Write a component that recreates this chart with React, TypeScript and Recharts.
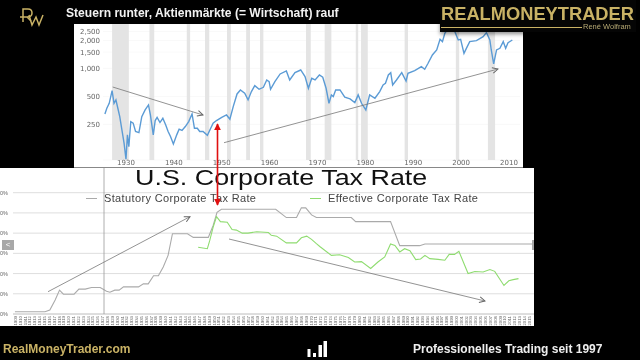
import React from "react";
import { LineChart, Line, XAxis, YAxis, CartesianGrid, ReferenceArea, Legend } from "recharts";

const stockYears = [1925.6,1926,1926.5,1927.1,1927.5,1927.9,1928.3,1928.7,1929.2,1929.6,1930,1930.3,1930.6,1931,1931.5,1932,1932.7,1933.3,1934,1934.7,1935.1,1935.7,1936.1,1936.5,1937.1,1937.7,1938.3,1938.8,1939.3,1939.9,1940.6,1941.1,1941.7,1942.4,1943.1,1943.8,1944.3,1944.9,1945.4,1946.1,1947,1947.7,1948.2,1948.9,1950,1951,1951.7,1952.4,1953.2,1953.9,1954.8,1955.5,1956.2,1956.9,1957.8,1958.7,1959.4,1959.9,1960.2,1961.1,1962.2,1963.5,1964.2,1965.3,1966.5,1967.4,1968.1,1968.8,1969.5,1970.4,1971.1,1971.8,1972.4,1972.9,1973.3,1973.8,1974.7,1975.7,1976.8,1977.8,1978.5,1979.2,1980.1,1980.9,1982,1983,1983.7,1984.2,1984.8,1985.3,1985.7,1986.5,1987.6,1988.5,1988.9,1990.3,1991.7,1992.4,1993.1,1994,1994.9,1995.6,1996.1,1996.6,1997.3,1998.7,1999.4,1999.9,2000.6,2001.1,2001.8,2003.2,2004.6,2005.3,2006,2006.3,2006.8,2007.4,2008.1,2008.8,2009.3,2009.8,2010.7];
const stockValues = [324,373,422,578,422,459,373,303,210,157,105.5,193,144,268,258,210,204,303,358,405,316,193,275,298,262,291,247,210,185,154,193,222,215,237,268,324,227,227,210,210,191,227,258,275,298,316,284,389,532,587,541,459,564,654,597,627,752,722,597,722,873,940,752,902,963,817,612,784,752,851,804,612,422,519,498,587,587,490,470,429,519,422,358,519,478,564,665,693,851,902,665,752,902,734,887,948,1046,980,1137,1397,1581,2058,1945,2388,2703,2488,2025,2058,1456,1647,1945,1994,2199,2428,2025,1581,1118,1581,1647,1945,1647,1896,2025];

const recessionStarts = [1927.1,1934.9,1942.7,1946.5,1951.1,1955.1,1958,1967.6,1971.5,1978,1979.1,1988.2,1998.9,2005.6];
const recessionEnds = [1930.6,1935.9,1943.4,1947.4,1951.9,1955.9,1958.7,1968.6,1972.9,1978.5,1980.5,1988.9,1999.6,2007.1];

const stockTicksX = [1930,1940,1950,1960,1970,1980,1990,2000,2010];
const stockTicksY = [250,500,1000,1500,2000,2500];

const statYears = [1908.9,1915.1,1916.1,1917.2,1918.1,1918.9,1921.1,1922.1,1923.4,1924.7,1926.5,1927.8,1928.5,1929.5,1930.4,1931.3,1934.4,1935.4,1936.4,1937.5,1938.5,1939.5,1940.5,1941.4,1944.5,1945.7,1948.8,1949.8,1950.6,1951.5,1962.7,1964.9,1967,1968,1968.9,1970.1,1971.1,1971.8,1978.3,1979.2,1986.4,1988.3,1992.4,1993.5,2015.8];
const statValues = [1.1,1.1,2,6.9,11.8,9.8,9.8,12.3,12.3,13.1,13.1,11.3,10.8,11.8,11.8,13.4,13.4,14.9,14.9,18.9,18.9,23.3,29,39.7,39.7,37.9,37.9,43.8,50.3,51.8,51.8,47.7,47.7,52.5,52.5,49,47.7,47.7,47.7,45.7,45.7,33.8,33.8,34.6,34.6];
const effYears = [1946.7,1948.6,1949.1,1949.8,1950.5,1951.3,1952.7,1953.7,1954.6,1955.8,1957,1958.8,1961.2,1961.8,1962.9,1964.9,1967,1968,1969.1,1970.1,1971.1,1971.8,1974.2,1975.9,1977.7,1979,1980.4,1982.3,1983.8,1985.2,1986.4,1987.3,1988.3,1989.3,1990.4,1991.6,1992.6,1993.5,1994.5,1996.2,1997.6,1998.5,1999.6,2000.5,2002.4,2003.8,2005.5,2006.9,2007.9,2009.8,2010.8,2011.7,2012.8];
const effValues = [33,32.3,36.4,43,48.2,45.7,45.4,41.8,41.5,40,40,40.7,40.3,38.9,38.5,35.2,35.2,37.7,38.5,36.9,34.8,33.4,29,29.3,27.9,25.7,25.9,22.5,25.7,28.2,34.6,33.9,30.7,32.3,31.3,26.9,27.2,29,27.4,27,26.6,29.5,29.5,31,20,21,20.8,22,21.1,14.1,16.4,17,17.5];

const taxTicksY = [0,10,20,30,40,50,60];
const firstTaxYear = 1909;
const lastTaxYear = 2015;

const stockData = stockYears.map((year, i) => ({ year, value: stockValues[i] }));
const statData = statYears.map((year, i) => ({ year, value: statValues[i] }));
const effData = effYears.map((year, i) => ({ year, value: effValues[i] }));
const taxTicksX = Array.from({ length: lastTaxYear - firstTaxYear + 1 }, (_, i) => firstTaxYear + i);

const SANS = '"Liberation Sans", Arial, sans-serif';
const GOLD = "#c9b265";

function YearTick(props: any) {
  const { x, y, payload } = props;
  return (
    <text x={x} y={y + 2} transform={`rotate(-90 ${x} ${y + 2})`} textAnchor="end" dominantBaseline="central" fontSize={4.3} fill="#666" fontFamily={SANS}>
      {payload.value}
    </text>
  );
}

function TaxLegend() {
  const item = (left: number, color: string, label: string) => (
    <div key={label} style={{ position: "absolute", left, top: 24, whiteSpace: "nowrap", height: 13, lineHeight: "13px", fontSize: 11, letterSpacing: 0.36, color: "#444", fontFamily: SANS }}>
      <span style={{ position: "absolute", left: 0, top: 6, width: 11, height: 1, background: color }} />
      <span style={{ position: "absolute", left: 18, top: 0 }}>{label}</span>
    </div>
  );
  return (
    <div style={{ position: "relative", width: 534, height: 40 }}>
      {item(86, "#aaaaaa", "Statutory Corporate Tax Rate")}
      {item(310, "#8fdc70", "Effective Corporate Tax Rate")}
    </div>
  );
}

export default function App() {
  return (
    <div style={{ position: "fixed", left: 0, top: 0, width: 640, height: 360, background: "#000", overflow: "hidden", filter: "blur(0.35px)" }}>
      <div style={{ position: "absolute", left: 74, top: 24, width: 449, height: 143, background: "#fff" }}>
        <LineChart width={449} height={143} data={stockData} margin={{ top: 0, right: 3, bottom: 0, left: 0 }}>
          <CartesianGrid horizontal vertical={false} stroke="#f5f5f5" strokeWidth={0.6} />
          {recessionStarts.map((start, i) => (
            <ReferenceArea key={start} x1={start} x2={recessionEnds[i]} fill="#e4e4e4" fillOpacity={1} stroke="none" ifOverflow="hidden" />
          ))}
          <XAxis dataKey="year" type="number" domain={[1925.2, 2012.3]} allowDataOverflow ticks={stockTicksX} height={7} interval={0} tickLine={false} axisLine={false} tickSize={0} tickMargin={0} tick={{ fontSize: 7, fill: "#666", fontFamily: "DejaVu Sans" }} />
          <YAxis dataKey="value" type="number" scale="log" domain={[103.5, 3010]} allowDataOverflow ticks={stockTicksY} width={29} interval={0} tickLine={false} axisLine={false} tickSize={0} tickMargin={3} tickFormatter={(v: number) => v.toLocaleString("en-US")} tick={{ fontSize: 7, fill: "#666", fontFamily: "DejaVu Sans" }} />
          <Line dataKey="value" type="linear" stroke="#5b9bd5" strokeWidth={1.4} dot={false} isAnimationActive={false} />
        </LineChart>
      </div>
      <div style={{ position: "absolute", left: 74, top: 166.5, width: 449, height: 1, background: "#888" }} />

      <div style={{ position: "absolute", left: 0, top: 168, width: 534, height: 158, background: "#fff" }}>
        <LineChart width={534} height={158} margin={{ top: 24.7, right: 0, bottom: 0, left: 0 }}>
          <CartesianGrid horizontal vertical={false} stroke="#dedede" strokeWidth={1} />
          <XAxis dataKey="year" type="number" domain={[1908.5, 2016]} allowDataOverflow ticks={taxTicksX} height={12} interval={0} tickLine={false} tickSize={0} tickMargin={0} axisLine={{ stroke: "#ccc" }} tick={<YearTick />} />
          <YAxis type="number" domain={[0, 60]} ticks={taxTicksY} width={13} interval={0} tickLine={false} axisLine={false} tickSize={0} tickMargin={5} tickFormatter={(v: number) => `${v}%`} tick={{ fontSize: 5.5, fill: "#666", fontFamily: SANS }} />
          <Legend layout="vertical" align="center" verticalAlign="middle" wrapperStyle={{ left: 0, top: 0, width: 534, height: 40 }} content={() => <TaxLegend />} />
          <Line data={statData} dataKey="value" name="Statutory Corporate Tax Rate" type="linear" stroke="#aaaaaa" strokeWidth={1.1} dot={false} isAnimationActive={false} />
          <Line data={effData} dataKey="value" name="Effective Corporate Tax Rate" type="linear" stroke="#8fdc70" strokeWidth={1.1} dot={false} isAnimationActive={false} />
        </LineChart>
      </div>

      <div style={{ position: "absolute", left: 135, top: 168, fontSize: 21.5, lineHeight: "20px", color: "#111", fontFamily: SANS, whiteSpace: "nowrap", transform: "scaleX(1.25)", transformOrigin: "0 0" }}>U.S. Corporate Tax Rate</div>
      <div style={{ position: "absolute", left: 2, top: 240, width: 12, height: 10, background: "#a8a8a8", color: "#fff", fontSize: 8, lineHeight: "10px", textAlign: "center", fontFamily: SANS }}>&lt;</div>
      <div style={{ position: "absolute", left: 532, top: 240, width: 2, height: 10, background: "#a8a8a8" }} />

      <svg width={640} height={360} style={{ position: "absolute", left: 0, top: 0 }}>
        <defs>
          <marker id="ga" viewBox="0 0 10 10" refX="9" refY="5" markerWidth="7" markerHeight="7" markerUnits="userSpaceOnUse" orient="auto">
            <path d="M1 1 L9 5 L1 9" fill="none" stroke="#666" strokeWidth="1.4" />
          </marker>
          <marker id="ra" viewBox="0 0 10 10" refX="9" refY="5" markerWidth="7" markerHeight="7" markerUnits="userSpaceOnUse" orient="auto-start-reverse">
            <path d="M0 0 L10 5 L0 10 Z" fill="#e01010" />
          </marker>
        </defs>
        <g stroke="#777" strokeWidth={0.8} fill="none">
          <line x1={104} y1={168} x2={104} y2={314} stroke="#999" />
          <line x1={112.7} y1={87} x2={203} y2={115} markerEnd="url(#ga)" />
          <line x1={224} y1={142.7} x2={498} y2={69} markerEnd="url(#ga)" />
          <line x1={48} y1={291.7} x2={190} y2={216.7} markerEnd="url(#ga)" />
          <line x1={229} y1={239} x2={485} y2={301} markerEnd="url(#ga)" />
        </g>
        <line x1={217.5} y1={124} x2={217.5} y2={205} stroke="#e01010" strokeWidth={1.6} markerStart="url(#ra)" markerEnd="url(#ra)" />
        <g fill="#fff">
          <rect x={307.5} y={349} width={3} height={8} />
          <rect x={313} y={353} width={3} height={4} />
          <rect x={318.5} y={345} width={3.5} height={12} />
          <rect x={323.5} y={341} width={3.5} height={16} />
        </g>
        <g fill="none" stroke={GOLD} strokeWidth={1.5}>
          <path d="M23 22 V9 H28 Q32 9 32 13 Q32 17 27 17 H20 M27 17 L31 21" />
          <path d="M29 15 L32 25 L36 17 L39 25 L43 15" />
        </g>
      </svg>

      <div style={{ position: "absolute", left: 66, top: 5, fontSize: 12.1, lineHeight: "16px", fontWeight: 700, color: "#f2f2f2", fontFamily: SANS, whiteSpace: "nowrap" }}>Steuern runter, Aktienmärkte (= Wirtschaft) rauf</div>
      <div style={{ position: "absolute", left: 440, top: 0, width: 196, height: 32, background: "#050505", boxShadow: "0 2px 4px rgba(0,0,0,0.45)" }} />
      <div style={{ position: "absolute", left: 441, top: 3, fontSize: 18.3, lineHeight: "22px", fontWeight: 700, color: GOLD, fontFamily: SANS, whiteSpace: "nowrap" }}>REALMONEYTRADER</div>
      <div style={{ position: "absolute", left: 441, top: 26.5, width: 141, height: 1, background: GOLD }} />
      <div style={{ position: "absolute", left: 583, top: 22, fontSize: 7.5, lineHeight: "10px", color: "#b5a873", fontFamily: SANS, whiteSpace: "nowrap" }}>René Wolfram</div>
      <div style={{ position: "absolute", left: 3, top: 341, fontSize: 12, lineHeight: "16px", fontWeight: 700, color: GOLD, fontFamily: SANS, whiteSpace: "nowrap" }}>RealMoneyTrader.com</div>
      <div style={{ position: "absolute", left: 413, top: 341, fontSize: 12, lineHeight: "16px", fontWeight: 700, color: "#eee", fontFamily: SANS, whiteSpace: "nowrap" }}>Professionelles Trading seit 1997</div>
    </div>
  );
}
